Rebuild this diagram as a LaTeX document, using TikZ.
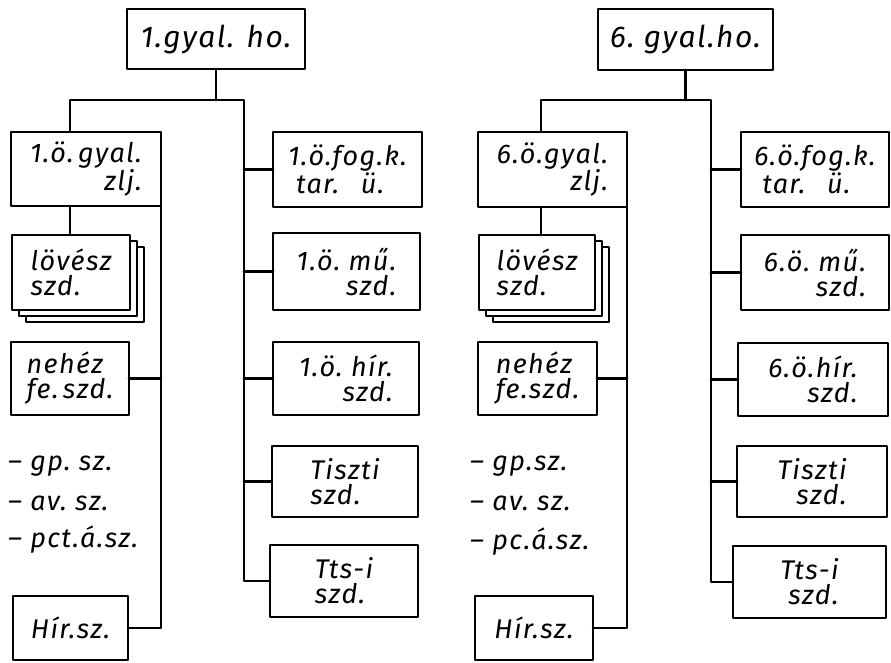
\documentclass[tikz,border=0pt]{standalone}
\usepackage{fontspec}
\setmainfont{Fira Sans}[LetterSpace=5]
\usetikzlibrary{shadows}

\begin{document}
\begin{tikzpicture}[x=1pt,y=-1pt,line cap=round,line join=round,
  font=\itshape\fontsize{27}{25}\selectfont,
  box/.style={draw,line width=2.6pt,fill=white,anchor=north west,outer sep=0pt,inner sep=2pt},
  stackbox/.style={box,
    general shadow={shadow xshift=14pt,shadow yshift=-12pt,fill=white,draw,line width=2.6pt},
    general shadow={shadow xshift=7pt,shadow yshift=-6pt,fill=white,draw,line width=2.6pt}},
  con/.style={line width=2.6pt},
  item/.style={anchor=west,inner sep=0pt}]
  \useasboundingbox (0,0) rectangle (891,662);

  % left tree
  \node[box,minimum width=178pt,minimum height=60pt,font=\itshape\fontsize{30}{30}\selectfont] (ho1) at (127,9) {1.gyal. ho.};
  \node[box,minimum width=150pt,minimum height=74pt,align=right] (zlj1) at (11,132) {1.ö.\,gyal.\\zlj.};
  \node[stackbox,minimum width=118pt,minimum height=75pt,align=left] (lov1) at (12,235) {lövész\\szd.};
  \node[box,minimum width=118pt,minimum height=73pt,align=left] (neh1) at (11,342) {nehéz\\fe.\,szd.};
  \node[item] (gp1) at (8,466) {– gp.\ sz.};
  \node[item] (av1) at (8,503) {– av.\ sz.};
  \node[item] (pct1) at (8,540) {– pct.á.sz.};
  \node[box,minimum width=115pt,minimum height=64pt] (hir1) at (13,596) {Hír.sz.};
  \node[box,minimum width=149pt,minimum height=75pt,align=left] (fog1) at (273,132) {1.ö.fog.k.\\\hspace*{.3em}tar.\hspace{.8em}ü.};
  \node[box,minimum width=147pt,minimum height=77pt,align=right] (mu1) at (273,233) {1.ö.\ mű.\\szd.};
  \node[box,minimum width=146pt,minimum height=73pt,align=right] (hsz1) at (273,342) {1.ö.\ hír.\\szd.};
  \node[box,minimum width=146pt,minimum height=71pt,align=left] (tisz1) at (272,446) {Tiszti\\szd.};
  \node[box,minimum width=148pt,minimum height=72pt,align=left] (tts1) at (270,545) {Tts-i\\szd.};

  \coordinate (bl1) at (70,100);
  \coordinate (br1) at (244,100);
  \draw[con] (ho1.south) -- (ho1.south |- bl1);
  \draw[con] (zlj1.north -| bl1) -- (bl1) -- (br1) -- (br1 |- tts1.west) -- (tts1.west);
  \draw[con] (zlj1.south -| bl1) -- (lov1.north -| bl1);
  \draw[con] (zlj1.south east) -- (zlj1.south east |- hir1.east) -- (hir1.east);
  \draw[con] (neh1.east) -- (neh1.east -| zlj1.south east);
  \foreach \n in {fog1,mu1,hsz1,tisz1}
    \draw[con] (\n.west) -- (\n.west -| br1);

  % right tree
  \node[box,minimum width=175pt,minimum height=61pt,font=\itshape\fontsize{30}{30}\selectfont] (ho6) at (598,9) {6.\ gyal.ho.};
  \node[box,minimum width=149pt,minimum height=75pt,align=right] (zlj6) at (478,132) {6.ö.gyal.\\zlj.};
  \node[stackbox,minimum width=116pt,minimum height=75pt,align=left] (lov6) at (479,235) {lövész\\szd.};
  \node[box,minimum width=119pt,minimum height=73pt,align=left] (neh6) at (478,342) {nehéz\\fe.szd.};
  \node[item] (gp6) at (470,466) {– gp.sz.};
  \node[item] (av6) at (470,503) {– av.\ sz.};
  \node[item] (pc6) at (470,542) {– pc.á.sz.};
  \node[box,minimum width=118pt,minimum height=64pt] (hir6) at (475,596) {Hír.sz.};
  \node[box,minimum width=148pt,minimum height=75pt,align=left] (fog6) at (741,132) {6.ö.fog.k.\\\hspace*{.3em}tar.\hspace{.8em}ü.};
  \node[box,minimum width=148pt,minimum height=75pt,align=right] (mu6) at (741,235) {6.ö.\ mű.\\szd.};
  \node[box,minimum width=150pt,minimum height=73pt,align=right] (hsz6) at (738,343) {6.ö.hír.\\szd.};
  \node[box,minimum width=150pt,minimum height=71pt,align=right] (tisz6) at (737,446) {Tiszti\\szd.};
  \node[box,minimum width=153pt,minimum height=72pt,align=right] (tts6) at (733,546) {Tts-i\\szd.};

  \coordinate (bl6) at (541,100);
  \coordinate (br6) at (711,100);
  \draw[con] (ho6.south) -- (ho6.south |- bl6);
  \draw[con] (zlj6.north -| bl6) -- (bl6) -- (br6) -- (br6 |- tts6.west) -- (tts6.west);
  \draw[con] (zlj6.south -| bl6) -- (lov6.north -| bl6);
  \draw[con] (zlj6.south east) -- (zlj6.south east |- hir6.east) -- (hir6.east);
  \draw[con] (neh6.east) -- (neh6.east -| zlj6.south east);
  \foreach \n in {fog6,mu6,hsz6,tisz6}
    \draw[con] (\n.west) -- (\n.west -| br6);
\end{tikzpicture}
\end{document}
